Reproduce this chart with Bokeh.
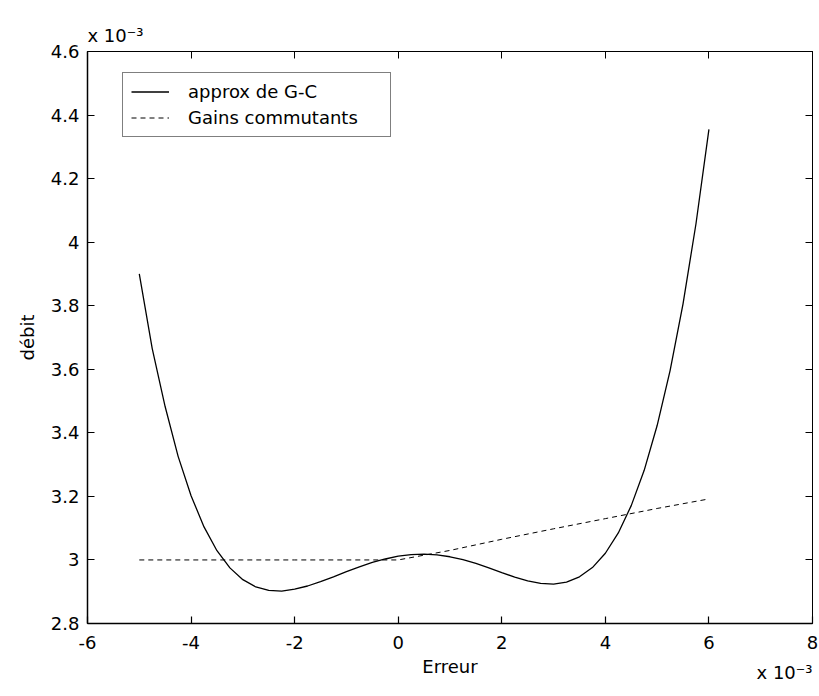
from bokeh.plotting import figure
from bokeh.models import Range1d, FixedTicker, LinearAxis, CustomJSTickFormatter, Legend, LegendItem, Title
from bokeh.embed import file_html
from bokeh.resources import INLINE

# Data (x in units of 1e-3, y in units of 1e-3)
erreur_gc = [-5.00, -4.75, -4.50, -4.25, -4.00, -3.75, -3.50, -3.25, -3.00, -2.75,
             -2.50, -2.25, -2.00, -1.75, -1.50, -1.25, -1.00, -0.75, -0.50, -0.25,
             0.00, 0.25, 0.50, 0.75, 1.00, 1.25, 1.50, 1.75, 2.00, 2.25,
             2.50, 2.75, 3.00, 3.25, 3.50, 3.75, 4.00, 4.25, 4.50, 4.75,
             5.00, 5.25, 5.50, 5.75, 6.00]
debit_gc = [3.900, 3.665, 3.482, 3.326, 3.202, 3.104, 3.029, 2.975, 2.938, 2.915,
            2.904, 2.902, 2.908, 2.918, 2.932, 2.947, 2.963, 2.978, 2.992, 3.003,
            3.012, 3.017, 3.018, 3.016, 3.010, 3.001, 2.989, 2.975, 2.960, 2.946,
            2.934, 2.926, 2.924, 2.930, 2.947, 2.976, 3.021, 3.085, 3.171, 3.282,
            3.423, 3.596, 3.806, 4.058, 4.355]

erreur_gains = [-5, -4, -3, -2, -1, 0, 1, 2, 3, 4, 5, 6]
debit_gains = [3.0, 3.0, 3.0, 3.0, 3.0, 3.0, 3.03, 3.065, 3.098, 3.13, 3.162, 3.192]

x_ticks = [-6, -4, -2, 0, 2, 4, 6, 8]
y_ticks = [2.8, 3.0, 3.2, 3.4, 3.6, 3.8, 4.0, 4.2, 4.4, 4.6]

label_gc = "approx de G-C"
label_gains = "Gains commutants"
x_title = "Erreur"
y_title = "débit"
exp_label = "x 10\u207b\u00b3"

FONT = "DejaVu Sans"
FS = "18px"

p = figure(width=819, height=696, output_backend="svg", toolbar_location=None,
           x_range=Range1d(-6, 8), y_range=Range1d(2.8, 4.6),
           min_border_left=87, min_border_right=7, min_border_top=51, min_border_bottom=73)
p.background_fill_color = "white"
p.border_fill_color = "white"
p.grid.visible = False
p.outline_line_color = "black"
p.outline_line_width = 1

# exponent of the y axis, top-left
p.title.text = exp_label
p.title.align = "left"
p.title.offset = 0
p.title.standoff = 11
p.title.text_font = FONT
p.title.text_font_size = FS
p.title.text_font_style = "normal"
p.title.text_color = "black"

fmt = CustomJSTickFormatter(code="return Number(tick.toFixed(1)).toString();")

for ax in (p.xaxis[0], p.yaxis[0]):
    ax.major_tick_in = 7
    ax.major_tick_out = 0
    ax.minor_tick_line_color = None
    ax.axis_line_width = 1.5
    ax.major_tick_line_width = 1.2
    ax.major_label_text_font = FONT
    ax.major_label_text_font_size = FS
    ax.major_label_text_color = "black"
    ax.axis_label_text_font = FONT
    ax.axis_label_text_font_size = FS
    ax.axis_label_text_font_style = "normal"
    ax.axis_label_text_color = "black"
    ax.formatter = fmt

p.xaxis[0].ticker = FixedTicker(ticks=x_ticks)
p.yaxis[0].ticker = FixedTicker(ticks=y_ticks)
p.xaxis[0].axis_label = x_title
p.yaxis[0].axis_label = y_title
p.xaxis[0].major_label_standoff = 12
p.xaxis[0].axis_label_standoff = 4
p.yaxis[0].major_label_standoff = 8
p.yaxis[0].axis_label_standoff = 10

# box ticks on top and right (no labels painted)
top = LinearAxis(ticker=FixedTicker(ticks=x_ticks), major_tick_in=7, major_tick_out=0,
                 minor_tick_line_color=None, major_label_text_font_size="1px",
                 major_label_text_color=None, major_label_standoff=0, axis_line_width=1)
right = LinearAxis(ticker=FixedTicker(ticks=y_ticks), major_tick_in=7, major_tick_out=0,
                   minor_tick_line_color=None, major_label_text_font_size="1px",
                   major_label_text_color=None, major_label_standoff=0, axis_line_width=1)
p.add_layout(top, "above")
p.add_layout(right, "right")

# exponent of the x axis, bottom-right (beside the axis label)
p.add_layout(Title(text=exp_label, align="right", offset=0, vertical_align="top",
                   standoff=-36, text_font=FONT, text_font_size=FS,
                   text_font_style="normal", text_color="black"), "below")

r1 = p.line(erreur_gc, debit_gc, line_color="black", line_width=1.3)
r2 = p.line(erreur_gains, debit_gains, line_color="black", line_width=1, line_dash="5 4")

legend = Legend(items=[LegendItem(label=label_gc, renderers=[r1]),
                       LegendItem(label=label_gains, renderers=[r2])],
                location=(35, 486), orientation="vertical")
legend.label_text_font = FONT
legend.label_text_font_size = FS
legend.label_text_color = "black"
legend.border_line_color = "black"
legend.border_line_width = 1
legend.background_fill_alpha = 1
legend.padding = 8
legend.spacing = 5
legend.glyph_width = 38
legend.label_standoff = 19
legend.label_width = 194
legend.margin = 0
legend.label_height = 21
legend.glyph_height = 21
p.add_layout(legend, "center")

open("out.html", "w").write(file_html(p, INLINE))
